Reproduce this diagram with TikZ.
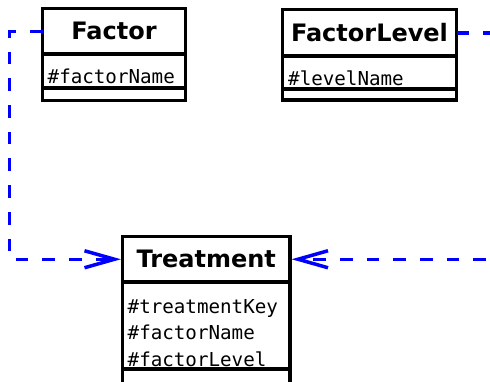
\documentclass[tikz,border=0pt]{standalone}
\usepackage{fontspec}
\setmainfont{DejaVu Sans}
\newfontfamily\monof{DejaVu Sans Mono}
\usetikzlibrary{arrows.meta}
\begin{document}
\begin{tikzpicture}[x=1pt,y=-1pt,
  comp/.style={draw, line width=3.3pt, rectangle, inner sep=0pt, outer sep=0pt, anchor=north west},
  ttl/.style={font=\fontsize{24}{28}\selectfont\bfseries},
  attr/.style={font=\fontsize{19.2}{26}\selectfont\monof, anchor=base west, inner sep=0pt},
  dep/.style={draw=blue, line width=3.5pt, dash pattern=on 12.7pt off 14pt},
  deparrow/.style={dep, shorten >=1.6pt, -{Straight Barb[length=30pt,width=17pt,line width=3.5pt]}}]
\useasboundingbox (0,0) rectangle (490,381);
\clip (0,0) rectangle (490,381);
% Factor
\node[comp, ttl, minimum width=143pt, minimum height=45.5pt] (factor) at (42.5,8.5) {Factor};
\node[comp, minimum width=143pt, minimum height=34pt] (factorA) at (factor.south west) {};
\node[comp, minimum width=143pt, minimum height=12.5pt] (factorO) at (factorA.south west) {};
\node[attr] (factorA1) at (47.5,83.5) {\#factorName};
% FactorLevel
\node[comp, ttl, minimum width=174pt, minimum height=46.5pt] (flevel) at (282.5,9.5) {FactorLevel};
\node[comp, minimum width=174pt, minimum height=33pt] (flevelA) at (flevel.south west) {};
\node[comp, minimum width=174pt, minimum height=11pt] (flevelO) at (flevelA.south west) {};
\node[attr] (flevelA1) at (288,85) {\#levelName};
% Treatment
\node[comp, ttl, minimum width=167.5pt, minimum height=45.5pt] (treat) at (122.5,236.5) {Treatment};
\node[comp, minimum width=167.5pt, minimum height=87pt] (treatA) at (treat.south west) {};
\node[comp, minimum width=167.5pt, minimum height=31pt] (treatO) at (treatA.south west) {};
\node[attr] (treatA1) at (127.5,313) {\#treatmentKey};
\node[attr] (treatA2) at (127.5,339.5) {\#factorName};
\node[attr] (treatA3) at (127.5,366) {\#factorLevel};
% connectors
\coordinate (lside) at (9.5,0);
\coordinate (rside) at (512.7,0);
\draw[deparrow] (factor.west) -- (factor.west -| lside) -- (lside |- treat.west) -- (treat.west);
\draw[dep] (flevel.east) -- (flevel.east -| rside);
\draw[deparrow] (treat.east -| rside) -- (treat.east);
\end{tikzpicture}
\end{document}
